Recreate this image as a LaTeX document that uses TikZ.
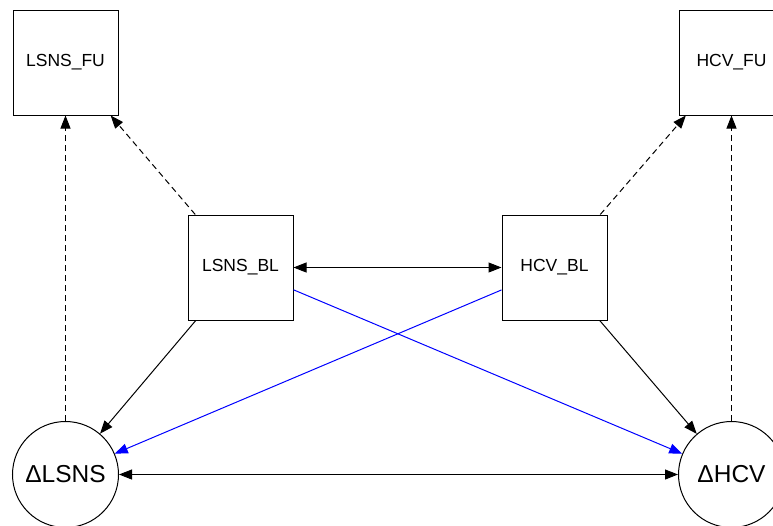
\documentclass[tikz,border=0pt]{standalone}
\usepackage{xcolor}
\usepackage{fontspec}
\setmainfont{Liberation Sans}
\usetikzlibrary{arrows.meta}

\begin{document}
\begin{tikzpicture}[
	x=1pt, y=-1pt,
	line width=1pt,
	manifest/.style = {shape=rectangle,
		draw, align=center,
		minimum size=105pt, inner sep=0pt,
		font=\fontsize{17.5}{20}\selectfont},
	latent/.style = {shape=circle,
		draw, align=center,
		minimum size=106pt, inner sep=0pt,
		font=\fontsize{24.5}{28}\selectfont},
	path/.style = {-{Triangle[length=13pt,width=10pt]}},
	cov/.style = {{Triangle[length=13pt,width=10pt]}-{Triangle[length=13pt,width=10pt]}},
	loading/.style = {path, dash pattern=on 6pt off 4pt}]
	\useasboundingbox (0,0) rectangle (773,525);
	% follow-up
	\node[manifest] (lsnsfu) at (65.5,62.5) {LSNS\_FU};
	\node[manifest] (hcvfu) at (731.5,62.5) {HCV\_FU};
	% baseline
	\node[manifest] (lsnsbl) at (240.5,267.5) {LSNS\_BL};
	\node[manifest] (hcvbl) at (554.5,267.5) {HCV\_BL};
	% change scores
	\node[latent] (dlsns) at (65.5,474.5) {ΔLSNS};
	\node[latent] (dhcv) at (731.5,474.5) {ΔHCV};
	
	\draw[loading] (dlsns) -- (lsnsfu);
	\draw[loading] (lsnsbl) -- (lsnsfu);
	\draw[loading] (dhcv) -- (hcvfu);
	\draw[loading] (hcvbl) -- (hcvfu);
	
	\draw[path] (lsnsbl) -- (dlsns);
	\draw[path] (hcvbl) -- (dhcv);
	\draw[path, blue] (lsnsbl) -- (dhcv);
	\draw[path, blue] (hcvbl) -- (dlsns);
	
	\draw[cov] (lsnsbl) -- (hcvbl);
	\draw[cov] (dlsns) -- (dhcv);
\end{tikzpicture}
\end{document}
